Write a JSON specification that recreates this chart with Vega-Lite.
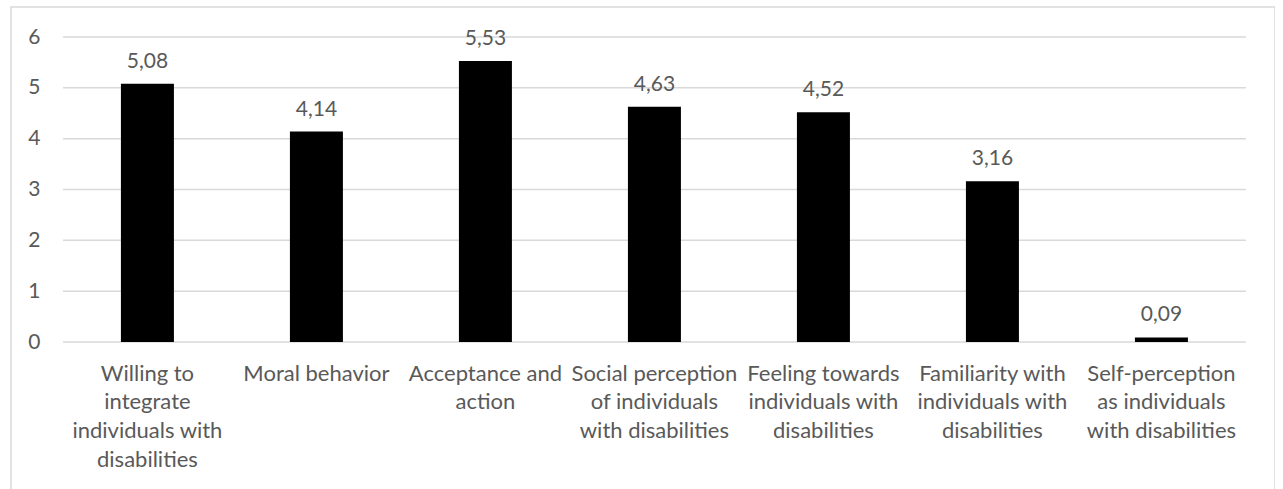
{
  "$schema": "https://vega.github.io/schema/vega-lite/v6.json",
  "width": 1264,
  "height": 500,
  "autosize": {"type": "none"},
  "padding": {"left": 11, "top": 7, "right": 0, "bottom": 0},
  "background": "white",
  "config": {
    "view": {"stroke": "#d9d9d9", "strokeWidth": 1.5},
    "font": "Lato",
    "locale": {
      "number": {"decimal": ",", "thousands": ".", "grouping": [3], "currency": ["", " €"]}
    }
  },
  "datasets": {
    "scores": [
      {"dimension": "Willing to integrate individuals with disabilities", "mean": 5.08},
      {"dimension": "Moral behavior", "mean": 4.14},
      {"dimension": "Acceptance and action", "mean": 5.53},
      {"dimension": "Social perception of individuals with disabilities", "mean": 4.63},
      {"dimension": "Feeling towards individuals with disabilities", "mean": 4.52},
      {"dimension": "Familiarity with individuals with disabilities", "mean": 3.16},
      {"dimension": "Self-perception as individuals with disabilities", "mean": 0.09}
    ],
    "gridlines": [
      {"level": 0}, {"level": 1}, {"level": 2}, {"level": 3},
      {"level": 4}, {"level": 5}, {"level": 6}
    ]
  },
  "layer": [
    {
      "data": {"name": "gridlines"},
      "mark": {"type": "rule", "color": "#d9d9d9", "strokeWidth": 1.5},
      "encoding": {
        "y": {
          "field": "level",
          "type": "quantitative",
          "scale": {"domain": [-3.2459, 6.5902], "nice": false, "zero": false},
          "axis": {
            "orient": "left",
            "values": [0, 1, 2, 3, 4, 5, 6],
            "offset": -29,
            "domain": false,
            "ticks": false,
            "tickSize": 0,
            "grid": false,
            "labelPadding": 0,
            "labelFontSize": 21,
            "labelColor": "#595959",
            "title": null
          }
        },
        "x": {
          "datum": "Willing to integrate individuals with disabilities",
          "type": "nominal",
          "bandPosition": -1.094
        },
        "x2": {
          "datum": "Self-perception as individuals with disabilities",
          "bandPosition": 2.094
        }
      }
    },
    {
      "data": {"name": "scores"},
      "mark": {"type": "bar", "color": "#000000"},
      "encoding": {
        "x": {
          "field": "dimension",
          "type": "nominal",
          "sort": null,
          "scale": {
            "domain": [
              "Willing to integrate individuals with disabilities",
              "Moral behavior",
              "Acceptance and action",
              "Social perception of individuals with disabilities",
              "Feeling towards individuals with disabilities",
              "Familiarity with individuals with disabilities",
              "Self-perception as individuals with disabilities"
            ],
            "paddingInner": 0.6864,
            "paddingOuter": 0.5828,
            "align": 0.558
          },
          "axis": {
            "orient": "bottom",
            "offset": -165,
            "domain": false,
            "ticks": false,
            "tickSize": 0,
            "grid": false,
            "labelAngle": 0,
            "labelAlign": "center",
            "labelPadding": 21,
            "labelBaseline": "top",
            "labelLineHeight": 28.7,
            "labelFontSize": 22,
            "labelColor": "#595959",
            "labelLimit": 0,
            "labelOverlap": false,
            "labelExpr": "{'Willing to integrate individuals with disabilities': ['Willing to', 'integrate', 'individuals with', 'disabilities'], 'Moral behavior': ['Moral behavior'], 'Acceptance and action': ['Acceptance and', 'action'], 'Social perception of individuals with disabilities': ['Social perception', 'of individuals', 'with disabilities'], 'Feeling towards individuals with disabilities': ['Feeling towards', 'individuals with', 'disabilities'], 'Familiarity with individuals with disabilities': ['Familiarity with', 'individuals with', 'disabilities'], 'Self-perception as individuals with disabilities': ['Self-perception', 'as individuals', 'with disabilities']}[datum.value]",
            "title": null
          }
        },
        "y": {"field": "mean", "type": "quantitative"},
        "y2": {"datum": 0}
      }
    },
    {
      "data": {"name": "scores"},
      "mark": {
        "type": "text",
        "align": "center",
        "baseline": "alphabetic",
        "dy": -16,
        "fontSize": 21,
        "color": "#595959"
      },
      "encoding": {
        "x": {"field": "dimension", "type": "nominal", "sort": null},
        "y": {"field": "mean", "type": "quantitative"},
        "text": {"field": "mean", "type": "quantitative", "format": ".2f"}
      }
    }
  ]
}
